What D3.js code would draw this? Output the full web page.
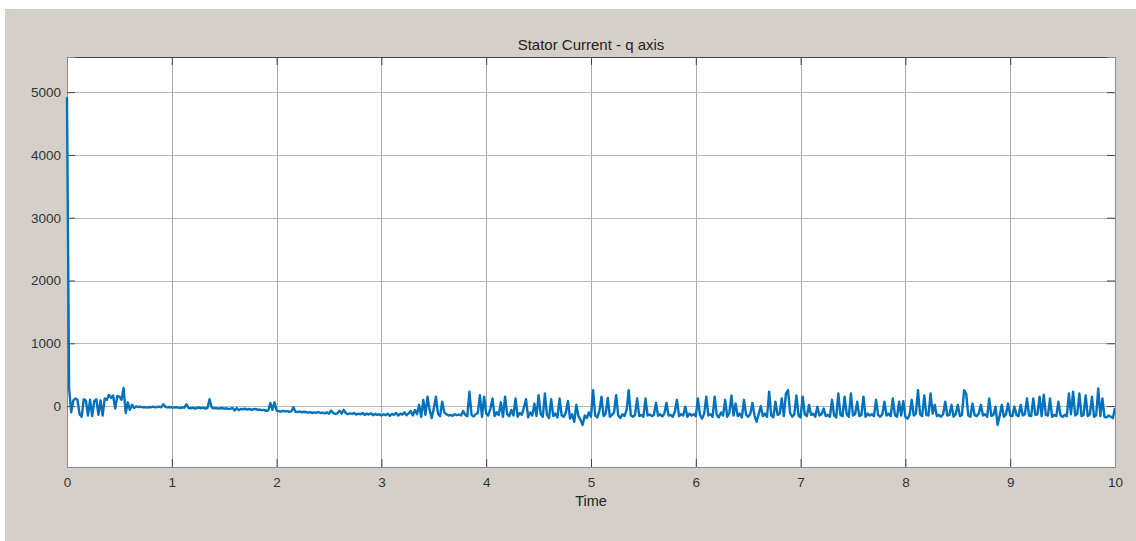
<!DOCTYPE html>
<html>
<head>
<meta charset="utf-8">
<script src="https://cdn.jsdelivr.net/npm/d3@7/dist/d3.min.js"></script>
<style>
  html, body { margin: 0; padding: 0; background: #ffffff; }
  svg { display: block; }
</style>
</head>
<body>
<svg id="chart" width="1136" height="541"></svg>
<script>
// Stator current, q axis, sampled every 0.02 s from t = 0 to t = 10 s
const sampleStep = 0.02;
const currentQ = [
  // 0.00 – 0.48
  4920, 280, -100, 90, 120, 100, -130, -170, 110, 90, -150, 100, -160, 80, 110, -140, 90, -150, 120, 100, 180, 130, 170, -40, 160,
  // 0.50 – 0.98
  150, 100, 290, -110, 60, -60, 20, -30, -5, -15, -10, -20, -15, -25, -15, -20, -10, -20, -15, -10, -20, 30, -15, -20, -15,
  // 1.00 – 1.48
  -20, -25, -15, -25, -30, -20, -25, 30, -30, -35, -25, -40, -30, -20, -35, -25, -40, -30, 110, -20, -35, -30, -40, -35, -30,
  // 1.50 – 1.98
  -40, -35, -45, -40, -30, -70, -30, -65, -45, -50, -40, -55, -45, -60, -50, -45, -60, -55, -65, -60, -75, -70, 50, -60, 60,
  // 2.00 – 2.48
  -70, -80, -90, -75, -85, -80, -90, -85, -20, -90, -95, -85, -100, -90, -95, -105, -95, -110, -100, -105, -95, -110, -105, -115, -100,
  // 2.50 – 2.98
  -120, -70, -110, -125, -115, -75, -120, -60, -110, -130, -115, -125, -110, -135, -120, -130, -110, -140, -120, -135, -115, -145, -125, -140, -130,
  // 3.00 – 3.48
  -150, -130, -145, -120, -155, -125, -140, -110, -150, -120, -135, -100, -145, -115, -80, -150, -60, -130, 20, -170, 100, -140, 150, -60, -190,
  // 3.50 – 3.98
  -40, 150, -120, -160, 70, -100, -130, -150, -140, -155, -130, -145, -135, -150, -80, -140, -160, 230, -140, -165, -130, -110, 175, -170, 150,
  // 4.00 – 4.48
  -120, -150, -40, 120, -160, -100, -140, 60, -170, 150, -130, -160, -60, -150, 120, -170, -110, -140, -20, 110, -180, -100, -150, 40, -160,
  // 4.50 – 4.98
  175, -130, -170, 200, -140, -190, 110, -160, -120, -180, 120, -150, -170, -100, 80, -200, -130, -250, 20, -160, -220, -300, -150, -190, -100,
  // 5.00 – 5.48
  -170, 255, -150, -180, -80, 150, -160, -120, 130, -170, -140, -100, 175, -150, -190, -130, -160, -60, 255, -150, -170, -140, 120, -160, -140,
  // 5.50 – 5.98
  -170, 120, -150, -135, -160, -140, 50, -155, -130, -165, -120, 50, -150, -140, -170, -90, 100, -160, -130, -150, -10, -170, -120, -150, -130,
  // 6.00 – 6.48
  -160, 120, -140, -200, -120, 150, -150, -130, -170, 150, -140, -180, -100, -150, 100, -170, -110, 170, -150, 40, -160, -120, -180, 100, -140,
  // 6.50 – 6.98
  -170, -120, 50, -150, -250, -130, 0, -160, -120, -170, 230, -150, -180, 70, -140, -120, 120, -160, 200, 255, -110, -170, -130, 170, -150,
  // 7.00 – 7.48
  -180, 150, -130, -160, 20, -140, -120, -170, -10, -150, -130, -40, -160, -140, -170, 100, -150, -180, 200, -140, -160, 150, -130, -170, 200,
  // 7.50 – 7.98
  -150, -130, 70, -160, -140, 150, -170, -120, -150, -130, -160, 100, -140, -170, -130, 70, -150, -120, -160, 120, -140, -170, 70, -150, 80,
  // 8.00 – 8.48
  -170, -200, -140, 100, -150, -120, 255, -130, -160, 170, -140, -150, 200, -120, 20, -160, -140, -170, -130, 70, -150, -140, 20, -170, -130,
  // 8.50 – 8.98
  20, -160, -140, 255, 200, -150, -170, 40, -140, -160, -120, 20, -150, -130, -170, 120, -160, -140, -10, -300, -150, 20, -170, -130, 40,
  // 9.00 – 9.48
  -150, -160, -10, -140, -160, 20, -150, -130, 120, -150, -160, 120, -140, -130, 150, -160, 180, -140, -150, 120, -170, -140, -160, 70, -150,
  // 9.50 – 10.00
  -170, -140, -160, 200, -130, 230, -150, -120, 200, -160, -140, 170, -160, -130, 150, -170, -150, 280, -160, 120, -170, -180, -150, -170, -190, -30
];

const xTicks = [0, 1, 2, 3, 4, 5, 6, 7, 8, 9, 10];
const yTicks = [0, 1000, 2000, 3000, 4000, 5000];
const xLimits = [0, 10];
const yLimits = [-970, 5560];
const titleText = "Stator Current - q axis";
const xLabelText = "Time";

const data = currentQ.map((v, i) => ({ t: +(i * sampleStep).toFixed(2), v }));

const svg = d3.select("#chart");
const W = 1136, H = 541;
const plot = { left: 67, right: 1115, top: 57, bottom: 467 };

// figure background
svg.append("rect")
  .attr("x", 5).attr("y", 9)
  .attr("width", W - 5).attr("height", H - 9)
  .attr("fill", "#d4d0c9");

const x = d3.scaleLinear().domain(xLimits).range([plot.left, plot.right]);
const y = d3.scaleLinear().domain(yLimits).range([plot.bottom, plot.top]);

// axes area
svg.append("rect")
  .attr("x", plot.left).attr("y", plot.top)
  .attr("width", plot.right - plot.left).attr("height", plot.bottom - plot.top)
  .attr("fill", "#ffffff");

// grid
const grid = svg.append("g").attr("class", "grid");
grid.selectAll("line.gx").data(xTicks.slice(1, -1)).join("line")
  .attr("class", "gx")
  .attr("x1", d => Math.round(x(d)) + 0.5).attr("x2", d => Math.round(x(d)) + 0.5)
  .attr("y1", plot.top).attr("y2", plot.bottom)
  .attr("stroke", "#a9a9a9").attr("stroke-width", 1);
grid.selectAll("line.gy").data(yTicks).join("line")
  .attr("class", "gy")
  .attr("x1", plot.left).attr("x2", plot.right)
  .attr("y1", d => Math.round(y(d)) + 0.5).attr("y2", d => Math.round(y(d)) + 0.5)
  .attr("stroke", "#b9b9b9").attr("stroke-width", 1);

// axes with inward ticks
const fontFamily = "'Liberation Sans', Arial, Helvetica, sans-serif";
const tickLen = 8;

const xAxisBottom = d3.axisBottom(x).tickValues(xTicks).tickSize(-tickLen).tickPadding(10).tickFormat(d3.format("d"));
const xAxisTop = d3.axisTop(x).tickValues(xTicks).tickSize(-tickLen).tickFormat("");
const yAxisLeft = d3.axisLeft(y).tickValues(yTicks).tickSize(-tickLen).tickPadding(6).tickFormat(d3.format("d"));
const yAxisRight = d3.axisRight(y).tickValues(yTicks).tickSize(-tickLen).tickFormat("");

function styleAxis(g, color) {
  g.select(".domain").attr("stroke", color).attr("stroke-width", 1);
  g.selectAll(".tick line").attr("stroke", "#444").attr("stroke-width", 1);
  g.selectAll(".tick text")
    .attr("fill", "#333")
    .style("font-family", fontFamily)
    .style("font-size", "13.5px");
}

svg.append("g").attr("transform", `translate(0,${plot.bottom})`).call(xAxisBottom).call(g => styleAxis(g, "#8c8c8c"));
svg.append("g").attr("transform", `translate(0,${plot.top})`).call(xAxisTop).call(g => styleAxis(g, "#444"));
svg.append("g").attr("transform", `translate(${plot.left},0)`).call(yAxisLeft).call(g => styleAxis(g, "#8c8c8c"));
svg.append("g").attr("transform", `translate(${plot.right},0)`).call(yAxisRight).call(g => styleAxis(g, "#8c8c8c"));

// signal, drawn over the axes box so the edge trace keeps its full width
svg.append("clipPath").attr("id", "plotClip")
  .append("rect")
  .attr("x", plot.left - 2).attr("y", plot.top)
  .attr("width", plot.right - plot.left + 2).attr("height", plot.bottom - plot.top);

const line = d3.line().x(d => x(d.t)).y(d => y(d.v));
svg.append("path")
  .datum(data)
  .attr("clip-path", "url(#plotClip)")
  .attr("d", line)
  .attr("fill", "none")
  .attr("stroke", "#0072bd")
  .attr("stroke-width", 2.4)
  .attr("stroke-linejoin", "round");

// title and axis label
svg.append("text")
  .attr("x", (plot.left + plot.right) / 2).attr("y", 50)
  .attr("text-anchor", "middle")
  .attr("fill", "#222")
  .style("font-family", fontFamily)
  .style("font-size", "15px")
  .text(titleText);

svg.append("text")
  .attr("x", (plot.left + plot.right) / 2).attr("y", 506)
  .attr("text-anchor", "middle")
  .attr("fill", "#222")
  .style("font-family", fontFamily)
  .style("font-size", "14.5px")
  .text(xLabelText);
</script>
</body>
</html>
